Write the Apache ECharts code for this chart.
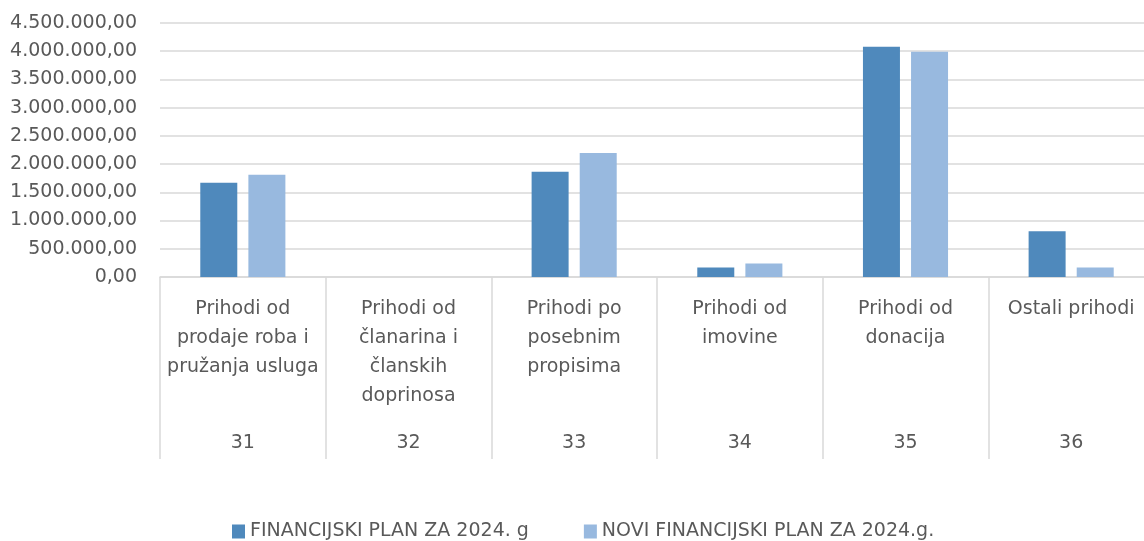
<!DOCTYPE html>
<html>
<head>
<meta charset="utf-8">
<script src="https://cdn.jsdelivr.net/npm/echarts@6/dist/echarts.min.js"></script>
<style>
  html, body { margin: 0; padding: 0; background: #fff; overflow: hidden; }
  #chart { width: 1156px; height: 541px; }
</style>
</head>
<body>
<div id="chart"></div>
<script>
var names = [
  'Prihodi od\nprodaje roba i\npružanja usluga',
  'Prihodi od\nčlanarina i\nčlanskih\ndoprinosa',
  'Prihodi po\nposebnim\npropisima',
  'Prihodi od\nimovine',
  'Prihodi od\ndonacija',
  'Ostali prihodi'
];
var codes = ['31', '32', '33', '34', '35', '36'];
var seriesNames = ['FINANCIJSKI PLAN ZA 2024. g', 'NOVI FINANCIJSKI PLAN ZA 2024.g.'];
var plan = [1668000, 0, 1863000, 167000, 4080000, 811000];
var noviPlan = [1810000, 0, 2195000, 238000, 3990000, 167000];

function fmt(v) {
  var s = Math.round(v).toString().replace(/\B(?=(\d{3})+(?!\d))/g, '.');
  return s + ',00';
}

var textColor = '#595959';
var fontFamily = 'DejaVu Sans';

var myChart = echarts.init(document.getElementById('chart'));

var option = {
  animation: false,
  color: ['#4f89bc', '#98b9df'],
  textStyle: { fontFamily: fontFamily },
  grid: {
    left: 160,
    top: 23,
    height: 254,
    right: 2
  },
  legend: {
    top: 522,
    left: 232,
    padding: 0,
    itemWidth: 13,
    itemHeight: 14,
    itemGap: 55,
    icon: 'rect',
    textStyle: { color: textColor, fontSize: 19, fontFamily: fontFamily },
    data: seriesNames
  },
  xAxis: [
    {
      type: 'category',
      data: names,
      axisLine: { lineStyle: { color: '#d9d9d9', width: 1.5 } },
      axisTick: { show: true, length: 182, lineStyle: { color: '#d9d9d9', width: 1.5 } },
      axisLabel: {
        interval: 0,
        margin: 18,
        color: textColor,
        fontSize: 19,
        lineHeight: 29,
        fontFamily: fontFamily
      }
    },
    {
      type: 'category',
      data: codes,
      position: 'bottom',
      axisLine: { show: false },
      axisTick: { show: false },
      axisLabel: {
        interval: 0,
        margin: 156,
        color: textColor,
        fontSize: 19,
        lineHeight: 20,
        fontFamily: fontFamily
      }
    }
  ],
  yAxis: {
    type: 'value',
    min: 0,
    max: 4500000,
    interval: 500000,
    axisLine: { show: false },
    axisTick: { show: false },
    splitLine: { lineStyle: { color: '#d9d9d9', width: 1.5 } },
    axisLabel: {
      formatter: fmt,
      color: textColor,
      fontSize: 19,
      margin: 23,
      fontFamily: fontFamily
    }
  },
  series: [
    {
      name: seriesNames[0],
      type: 'bar',
      barWidth: 37,
      barGap: '30%',
      data: plan
    },
    {
      name: seriesNames[1],
      type: 'bar',
      barWidth: 37,
      barGap: '30%',
      data: noviPlan
    }
  ]
};

myChart.setOption(option);
</script>
</body>
</html>
